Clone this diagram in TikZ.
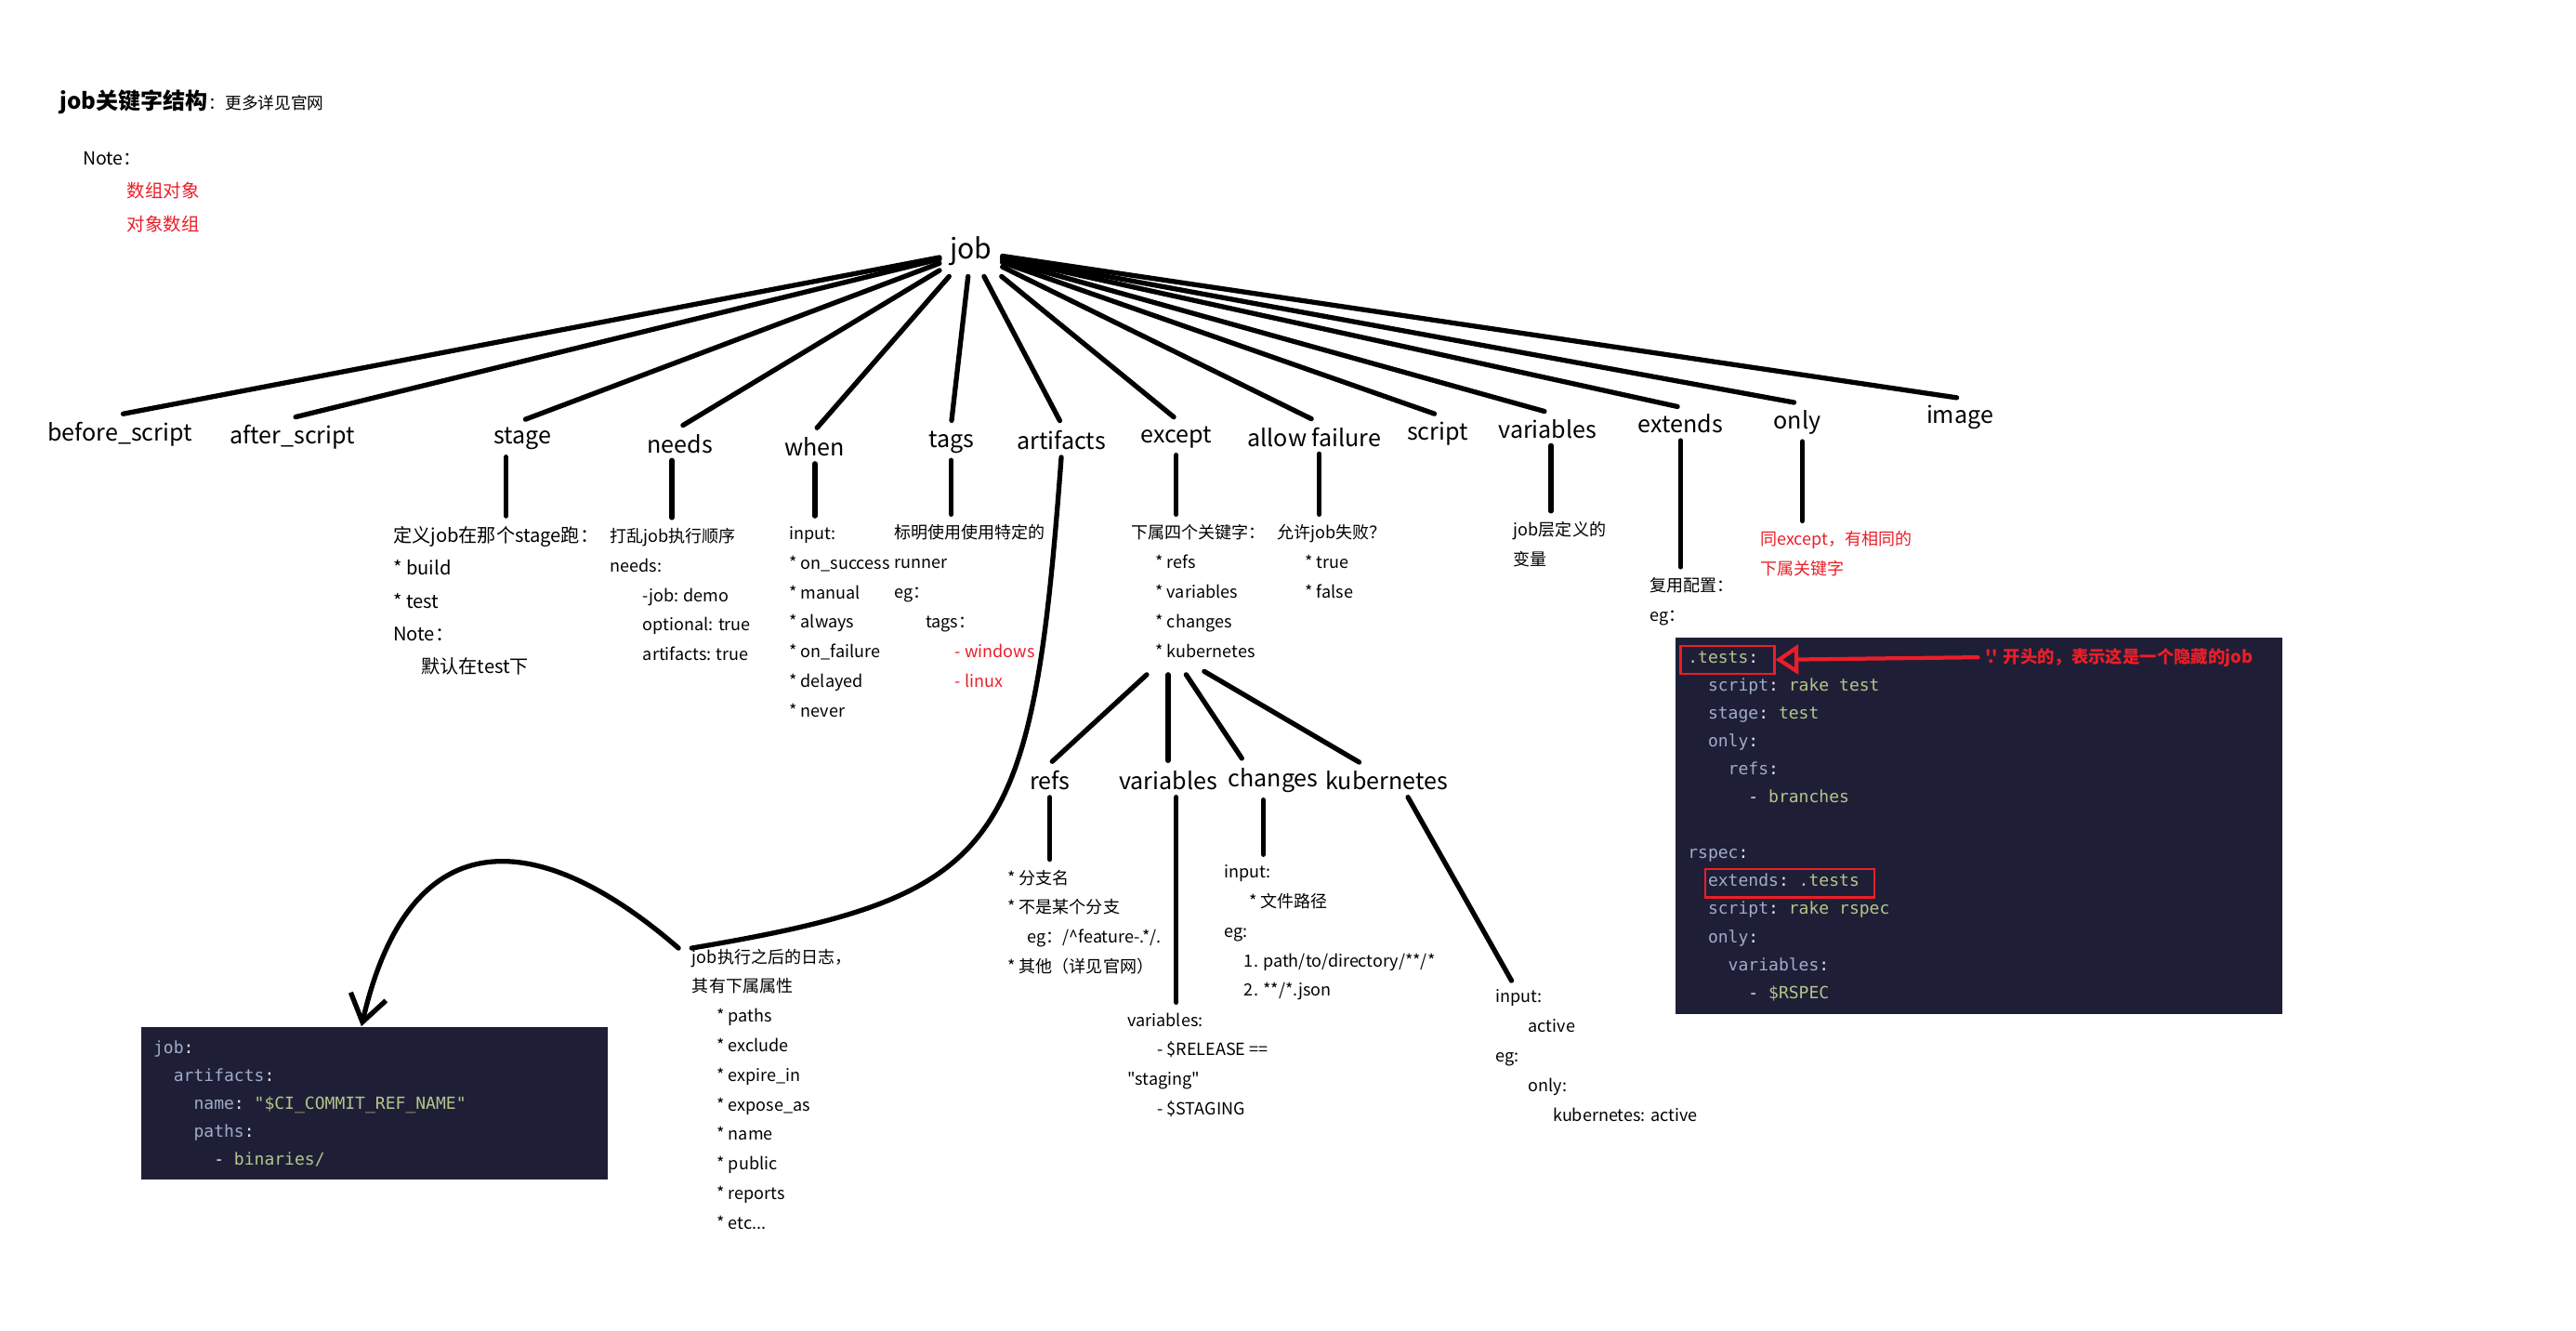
\documentclass[tikz,border=0pt]{standalone}
\usepackage{fontspec}
\setmainfont{Noto Sans CJK SC}[Ligatures=TeXOff]
\setmonofont{DejaVu Sans Mono}
\usetikzlibrary{positioning,arrows.meta,fit}

\definecolor{codebg}{RGB}{30,31,55}
\definecolor{codekey}{RGB}{160,172,200}
\definecolor{codeval}{RGB}{181,197,138}
\definecolor{notered}{RGB}{235,30,40}

\newcommand{\yk}[1]{\textcolor{codekey}{#1}}
\newcommand{\yv}[1]{\textcolor{codeval}{#1}}
\newcommand{\yi}{\phantom{xx}}

\begin{document}
\begin{tikzpicture}[
    x=0.5pt, y=-0.5pt,
    line cap=round,
    keyword/.style={font=\fontsize{7.1}{9}\selectfont, inner sep=2pt},
    note/.style={font=\fontsize{5.1}{9}\selectfont, align=left, anchor=north west,
                 inner sep=0pt},
    branch/.style={line width=1.5pt, shorten >=1pt},
    stem/.style={line width=1.5pt, shorten >=3pt},
    codebox/.style={fill=codebg, inner sep=0pt},
    code/.style={font=\fontsize{5.1}{8.5}\ttfamily, text=white!90!black, align=left,
                 anchor=north west, inner sep=0pt},
    hlbox/.style={draw=notered, line width=0.7pt, inner sep=0pt},
  ]
  \useasboundingbox (0,0) rectangle (1568,810);

  % header
  \node[anchor=west, inner sep=0pt, font=\fontsize{6.8}{8}\selectfont\bfseries] (title) at (36,62) {job关键字结构};
  \node[anchor=base west, inner sep=0pt, font=\fontsize{5}{8}\selectfont] (titlemore) at (title.base east) {：更多详见官网};
  \node[note, font=\fontsize{5.5}{10}\selectfont] (header) at (50,92)
    {Note：\\ \hspace*{13.5pt}\textcolor{notered}{数组对象}\\ \hspace*{13.5pt}\textcolor{notered}{对象数组}};

  % root and first level keywords
  \node[keyword, font=\fontsize{8.5}{10}\selectfont, inner sep=3pt] (job) at (591,153) {job};
  \node[keyword] (before) at (73,264) {before\_script};
  \node[keyword] (after) at (178,266) {after\_script};
  \node[keyword] (stage) at (318,267) {stage};
  \node[keyword] (needs) at (414,270) {needs};
  \node[keyword] (when) at (496,272) {when};
  \node[keyword] (tags) at (579,269) {tags};
  \node[keyword] (artifacts) at (646,268) {artifacts};
  \node[keyword] (except) at (716,266) {except};
  \node[keyword] (allow) at (800,266) {allow failure};
  \node[keyword] (script) at (875,264) {script};
  \node[keyword] (variables) at (942,261) {variables};
  \node[keyword] (extends) at (1023,258) {extends};
  \node[keyword] (only) at (1094,257) {only};
  \node[keyword] (image) at (1193,254) {image};

  \foreach \lbl in {before,after,stage,needs,when,tags,artifacts,except,allow,script,variables,extends,only,image}
    \draw[branch] (job) -- (\lbl.north);

  % notes under the keywords
  \node[note, font=\fontsize{5.7}{10}\selectfont] (stagenote) at (239,320)
    {定义job在那个stage跑：\\* build\\* test\\Note：\\\hspace*{8.5pt}默认在test下};
  \node[note] (needsnote) at (371,321)
    {打乱job执行顺序\\needs:\\\hspace*{10pt}-job: demo\\\hspace*{10pt}optional: true\\\hspace*{10pt}artifacts: true};
  \node[note] (whennote) at (480,320)
    {input:\\* on\_success\\* manual\\* always\\* on\_failure\\* delayed\\* never};
  \node[note] (tagsnote) at (544,319)
    {标明使用使用特定的\\runner\\eg：\\\hspace*{9.5pt}tags：\\\hspace*{18.5pt}\textcolor{notered}{- windows}\\\hspace*{18.5pt}\textcolor{notered}{- linux}};
  \node[note] (exceptnote) at (688,319)
    {下属四个关键字：\\\hspace*{7.5pt}* refs\\\hspace*{7.5pt}* variables\\\hspace*{7.5pt}* changes\\\hspace*{7.5pt}* kubernetes};
  \node[note] (allownote) at (777,319)
    {允许job失败？\\\hspace*{8.5pt}* true\\\hspace*{8.5pt}* false};
  \node[note] (varsnote) at (921,317) {job层定义的\\变量};
  \node[note] (extendsnote) at (1004,351) {复用配置：\\eg：};
  \node[note, text=notered] (onlynote) at (1071,323) {同except，有相同的\\下属关键字};

  \draw[stem] ([xshift=-5pt]stage.south) -- ([xshift=-5pt]stage.south |- stagenote.north);
  \draw[stem] ([xshift=-2.5pt]needs.south) -- ([xshift=-2.5pt]needs.south |- needsnote.north);
  \draw[stem] (when.south) -- (when.south |- whennote.north);
  \draw[stem] (tags.south) -- (tags.south |- tagsnote.north);
  \draw[stem] (except.south) -- (except.south |- exceptnote.north);
  \draw[stem] ([xshift=1.5pt]allow.south) -- ([xshift=1.5pt]allow.south |- allownote.north);
  \draw[stem] ([xshift=1pt]variables.south) -- ([xshift=1pt]variables.south |- varsnote.north);
  \draw[stem] (extends.south) -- (extends.south |- extendsnote.north);
  \draw[stem] ([xshift=1.5pt]only.south) -- ([xshift=1.5pt]only.south |- onlynote.north);

  % except: four sub keywords
  \node[keyword] (refs) at (639,475) {refs};
  \node[keyword] (subvars) at (711,475) {variables};
  \node[keyword] (changes) at (775,475) {changes};
  \node[keyword] (kube) at (844,475) {kubernetes};

  \draw[branch] ([xshift=5pt,yshift=-5pt]exceptnote.south west) -- (refs.north);
  \draw[branch] ([xshift=11.5pt,yshift=-5pt]exceptnote.south west) -- (subvars.north);
  \draw[branch] ([xshift=17pt,yshift=-5pt]exceptnote.south west) -- ([xshift=-9pt]changes.north);
  \draw[branch] ([xshift=22.5pt,yshift=-4pt]exceptnote.south west) -- ([xshift=-7.5pt]kube.north);

  \node[note] (refsnote) at (613,529)
    {* 分支名\\* 不是某个分支\\\hspace*{6pt}eg：/\textasciicircum feature-.*/.\\* 其他（详见官网）};
  \node[note] (changesnote) at (745,526)
    {input:\\\hspace*{7.5pt}* 文件路径\\eg:\\\hspace*{6pt}1. path/to/directory/**/*\\\hspace*{6pt}2. **/*.json};
  \node[note] (subvarsnote) at (686,616)
    {variables:\\\hspace*{9pt}- \$RELEASE ==\\"staging"\\\hspace*{9pt}- \$STAGING};
  \node[note] (kubenote) at (910,602)
    {input:\\\hspace*{10pt}active\\eg:\\\hspace*{10pt}only:\\\hspace*{17.5pt}kubernetes: active};

  \draw[stem] (refs.south) -- (refs.south |- refsnote.north);
  \draw[stem] ([xshift=2.5pt]subvars.south) -- ([xshift=2.5pt]subvars.south |- subvarsnote.north);
  \draw[stem] ([xshift=-3pt]changes.south) -- ([xshift=-3pt]changes.south |- changesnote.north);
  \draw[stem] ([xshift=6.5pt]kube.south) -- ([xshift=6.5pt]kubenote.north west);

  % artifacts: long curve down to its note, then arrow to the example
  \node[note] (artinote) at (421,577)
    {job执行之后的日志，\\其有下属属性\\\hspace*{7.5pt}* paths\\\hspace*{7.5pt}* exclude\\\hspace*{7.5pt}* expire\_in\\\hspace*{7.5pt}* expose\_as\\\hspace*{7.5pt}* name\\\hspace*{7.5pt}* public\\\hspace*{7.5pt}* reports\\\hspace*{7.5pt}* etc...};
  \draw[stem, shorten >=0pt] (artifacts.south) .. controls (628,520) and (610,545) .. (artinote.north west);

  \node[codebox, fit={(86,625) (370,718)}] (jobcode) {};
  \node[code] (jobyaml) at (93,633)
    {\yk{job}:\\
     \yi\yk{artifacts}:\\
     \yi\yi\yk{name}: \yv{"\$CI\_COMMIT\_REF\_NAME"}\\
     \yi\yi\yk{paths}:\\
     \yi\yi\yi- \yv{binaries/}};
  \draw[stem, shorten >=0pt, -{Straight Barb[length=8pt,width=11pt]}]
    ([xshift=-4pt]artinote.north west) .. controls (330,505) and (250,495) .. ([xshift=-4pt]jobcode.north);

  % extends example
  \node[codebox, fit={(1020,388) (1389,617)}] (testscode) {};
  \node[code] (testsyaml) at (1027,396)
    {\yv{.tests}:\\
     \yi\yk{script}: \yv{rake test}\\
     \yi\yk{stage}: \yv{test}\\
     \yi\yk{only}:\\
     \yi\yi\yk{refs}:\\
     \yi\yi\yi- \yv{branches}\\
     \mbox{}\\
     \yk{rspec}:\\
     \yi\yk{extends}: \yv{.tests}\\
     \yi\yk{script}: \yv{rake rspec}\\
     \yi\yk{only}:\\
     \yi\yi\yk{variables}:\\
     \yi\yi\yi- \yv{\$RSPEC}};
  \node[hlbox, fit={(1023,393) (1080,410)}] (testsbox) {};
  \node[hlbox, fit={(1038,529) (1141,546)}] (extendsbox) {};
  \node[anchor=west, inner sep=0pt, text=notered, font=\fontsize{5.2}{8}\selectfont\bfseries] (hidenote) at (1208,400)
    {'.' 开头的，表示这是一个隐藏的job};
  \draw[notered, line width=1.2pt, -{Triangle[open,length=7pt,width=9pt]}] ([xshift=-2pt]hidenote.west) -- (testsbox.east);
\end{tikzpicture}
\end{document}
